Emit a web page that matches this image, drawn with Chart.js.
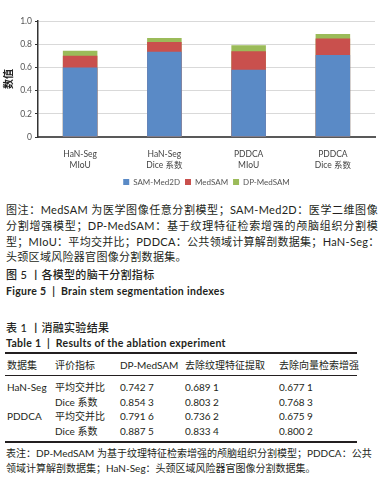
<!DOCTYPE html>
<html>
<head>
<meta charset="utf-8">
<script src="https://cdn.jsdelivr.net/npm/chart.js@4"></script>
<style>
  body { margin: 0; background: #fff; }
  #page { position: relative; width: 384px; height: 484px; overflow: hidden; font-family: Lato, "Noto Sans CJK SC", sans-serif; color: #231f20; }
  #chartBox { position: absolute; left: 0; top: 0; width: 384px; height: 196px; }
  .ln { position: absolute; left: 6px; white-space: nowrap; font-size: 11px; line-height: 14px; letter-spacing: 0.3px; }
  .just { width: 372px; text-align: justify; text-align-last: justify; }
  .b { font-weight: bold; }
  .t { position: absolute; font-size: 10px; line-height: 14px; white-space: nowrap; }
  .rule { position: absolute; left: 5px; width: 352px; background: #231f20; }
</style>
</head>
<body>
<div id="page">
  <div id="chartBox"><canvas id="brainChart"></canvas></div>

  <div class="ln just" style="top:203px">图注：MedSAM 为医学图像任意分割模型；SAM-Med2D：医学二维图像</div>
  <div class="ln just" style="top:219px">分割增强模型；DP-MedSAM：基于纹理特征检索增强的颅脑组织分割模</div>
  <div class="ln just" style="top:235px">型；MIoU：平均交并比；PDDCA：公共领域计算解剖数据集；HaN-Seg：</div>
  <div class="ln" style="top:250px">头颈区域风险器官图像分割数据集。</div>
  <div class="ln" style="top:268px; font-weight:500">图 5 丨各模型的脑干分割指标</div>
  <div class="ln b" style="top:284px; font-size:10.5px">Figure 5 &nbsp;|&nbsp; Brain stem segmentation indexes</div>

  <div class="ln" style="top:321px; font-weight:500">表 1 丨消融实验结果</div>
  <div class="ln b" style="top:336px; font-size:10.5px">Table 1 &nbsp;|&nbsp; Results of the ablation experiment</div>

  <div class="rule" style="top:352px; height:1.5px"></div>
  <div class="rule" style="top:375px; height:1px"></div>
  <div class="rule" style="top:441px; height:1.5px"></div>

  <div id="tbl"></div>

  <div class="t just" style="left:6px; top:446px; width:364px">表注：DP-MedSAM 为基于纹理特征检索增强的颅脑组织分割模型；PDDCA：公共</div>
  <div class="t" style="left:6px; top:461px">领域计算解剖数据集；HaN-Seg：头颈区域风险器官图像分割数据集。</div>
</div>

<script>
// --- chart data ---
const categories = [['HaN-Seg', 'MIoU'], ['HaN-Seg', 'Dice 系数'], ['PDDCA', 'MIoU'], ['PDDCA', 'Dice 系数']];
const samMed2d = [0.60, 0.735, 0.58, 0.707];
const medSam = [0.70, 0.82, 0.74, 0.85];
const dpMedSam = [0.7427, 0.8543, 0.7916, 0.8875];
const seriesNames = ['SAM-Med2D', 'MedSAM', 'DP-MedSAM'];

// --- table data ---
const tableHead = ['数据集', '评价指标', 'DP-MedSAM', '去除纹理特征提取', '去除向量检索增强'];
const tableSets = ['HaN-Seg', '', 'PDDCA', ''];
const tableMetrics = ['平均交并比', 'Dice 系数', '平均交并比', 'Dice 系数'];
const colDp = ['0.742 7', '0.854 3', '0.791 6', '0.887 5'];
const colNoTexture = ['0.689 1', '0.803 2', '0.736 2', '0.833 4'];
const colNoVector = ['0.677 1', '0.768 3', '0.675 9', '0.800 2'];

function buildTable() {
    const colX = [7, 55, 120, 185, 279];
    const rowTop = [380, 395, 409, 424];
    let html = tableHead.map((h, i) =>
        `<div class="t" style="left:${colX[i]}px;top:358px">${h}</div>`).join('');
    const cols = [tableSets, tableMetrics, colDp, colNoTexture, colNoVector];
    rowTop.forEach((top, r) => {
        cols.forEach((c, i) => {
            html += `<div class="t" style="left:${colX[i]}px;top:${top}px">${c[r]}</div>`;
        });
    });
    document.getElementById('tbl').innerHTML = html;
}

function drawChart() {
    const ctx = document.getElementById('brainChart');
    new Chart(ctx, {
        type: 'bar',
        data: {
            labels: categories,
            datasets: [
                { label: seriesNames[0], data: samMed2d, backgroundColor: '#5a8ac6' },
                { label: seriesNames[1], data: medSam, backgroundColor: '#c9504d' },
                { label: seriesNames[2], data: dpMedSam, backgroundColor: '#9bbb59' }
            ]
        },
        options: {
            responsive: true,
            maintainAspectRatio: false,
            animation: false,
            barPercentage: 0.41,
            categoryPercentage: 1,
            layout: { padding: { top: 21, right: 9, left: 0, bottom: 0 } },
            plugins: {
                tooltip: { enabled: false },
                legend: {
                    position: 'bottom',
                    fullSize: false,
                    labels: {
                        boxWidth: 6, boxHeight: 6, padding: 5,
                        color: '#555', font: { family: 'Lato, "Noto Sans CJK SC"', size: 8 }
                    }
                }
            },
            scales: {
                x: {
                    stacked: true,
                    grid: { display: false, drawOnChartArea: false, drawTicks: false, color: 'transparent', tickColor: 'transparent' },
                    border: { color: '#595959', width: 2 },
                    ticks: {
                        padding: 12, color: '#444', maxRotation: 0,
                        font: { family: 'Lato, "Noto Sans CJK SC"', size: 8.5, lineHeight: 1.3 }
                    },
                    afterFit(scale) { scale.height = 36; }
                },
                y: {
                    stacked: false,
                    min: 0, max: 1,
                    grid: { color: '#d9d9d9', tickLength: 3, tickColor: '#333' },
                    border: { color: '#333', width: 1.5 },
                    ticks: {
                        stepSize: 0.1, padding: 3, color: '#555',
                        font: { family: 'Lato, "Noto Sans CJK SC"', size: 8.5 },
                        callback: v => v === 0 ? '0' : v.toFixed(1)
                    },
                    title: {
                        display: true, text: '数值', color: '#222', padding: { top: 2, bottom: 0 },
                        font: { family: '"Noto Sans CJK SC"', size: 10, weight: 'bold' }
                    },
                    afterFit(scale) { scale.width = 38; }
                }
            }
        }
    });
}

buildTable();
drawChart();
</script>
</body>
</html>
